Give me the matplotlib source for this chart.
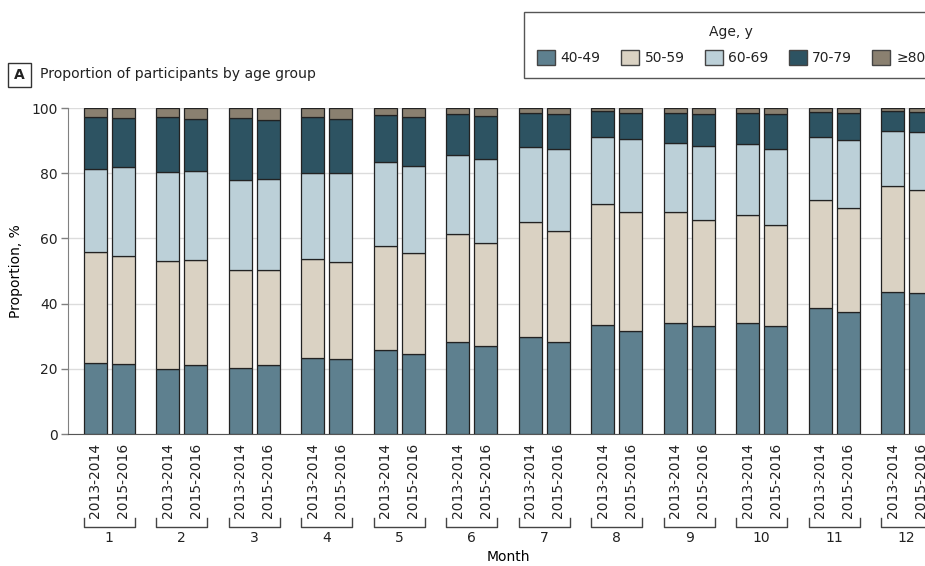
import matplotlib
matplotlib.use('Agg')
import matplotlib.pyplot as plt
import numpy as np
from matplotlib.patches import Rectangle, Patch
from matplotlib.transforms import blended_transform_factory

plt.rcParams['font.family'] = ['DejaVu Sans']
plt.rcParams['font.size'] = 10
plt.rcParams['text.color'] = '#222222'

# ---------------- data ----------------
months = [str(m) for m in range(1, 13)]
periods = ['2013-2014', '2015-2016']
age_groups = ['40-49', '50-59', '60-69', '70-79', '≥80']
colors = ['#5E808F', '#DAD2C3', '#BCD0D8', '#2D5362', '#8A8070']

# 2013-2014, percent by age group for months 1..12
p1314_40_49 = [21.7, 20.0, 20.3, 23.2, 25.8, 28.1, 29.8, 33.3, 34.0, 34.0, 38.7, 43.6]
p1314_50_59 = [34.2, 33.2, 30.1, 30.6, 32.0, 33.4, 35.2, 37.3, 34.2, 33.2, 33.2, 32.4]
p1314_60_69 = [25.4, 27.2, 27.4, 26.4, 25.5, 24.1, 23.1, 20.4, 21.0, 21.8, 19.3, 17.0]
p1314_70_79 = [15.8, 16.9, 19.0, 17.1, 14.4, 12.5, 10.5, 8.0, 9.4, 9.6, 7.7, 6.2]
p1314_80up = [2.9, 2.7, 3.2, 2.7, 2.3, 1.9, 1.4, 1.0, 1.4, 1.4, 1.1, 0.8]

# 2015-2016
p1516_40_49 = [21.5, 21.1, 21.2, 23.0, 24.6, 26.9, 28.1, 31.6, 33.1, 33.1, 37.4, 43.4]
p1516_50_59 = [33.0, 32.3, 29.0, 29.8, 31.0, 31.8, 34.3, 36.6, 32.4, 30.9, 32.0, 31.5]
p1516_60_69 = [27.3, 27.4, 28.0, 27.3, 26.7, 25.8, 25.0, 22.3, 22.9, 23.4, 20.9, 17.7]
p1516_70_79 = [15.0, 15.8, 18.1, 16.6, 14.8, 13.0, 10.9, 8.1, 9.9, 10.8, 8.3, 6.3]
p1516_80up = [3.2, 3.4, 3.7, 3.3, 2.9, 2.5, 1.7, 1.4, 1.7, 1.8, 1.4, 1.1]

series = {
    periods[0]: [p1314_40_49, p1314_50_59, p1314_60_69, p1314_70_79, p1314_80up],
    periods[1]: [p1516_40_49, p1516_50_59, p1516_60_69, p1516_70_79, p1516_80up],
}

# ---------------- figure ----------------
W, H = 925, 566
fig = plt.figure(figsize=(W / 100, H / 100), dpi=100)
ax = fig.add_axes([68 / W, (H - 434) / H, 880 / W, 326 / H])

x = np.arange(1, len(months) + 1)
offsets = [-0.19, 0.19]
bw = 0.317

for k, per in enumerate(periods):
    bottom = np.zeros(len(months))
    for vals, col in zip(series[per], colors):
        v = np.array(vals)
        ax.bar(x + offsets[k], v, bw, bottom=bottom, color=col,
               edgecolor='#222222', linewidth=0.9, zorder=3)
        bottom += v

ax.set_xlim(0.431, 12.569)
ax.set_ylim(0, 100)
ax.set_yticks(np.arange(0, 101, 20))
ax.yaxis.grid(True, color='#DCDCDC', linewidth=1)
ax.set_axisbelow(True)

tick_pos = np.sort(np.concatenate([x + offsets[0], x + offsets[1]]))
tick_lab = [periods[i % 2] for i in range(len(tick_pos))]
ax.set_xticks(tick_pos)
ax.set_xticklabels(tick_lab, rotation=90)
ax.tick_params(axis='x', length=0, pad=6.5, labelsize=10, labelcolor='#222222')
ax.tick_params(axis='y', length=5, width=1, color='#808080', pad=2.5,
               labelsize=10, labelcolor='#222222')

for s in ['top', 'right']:
    ax.spines[s].set_visible(False)
ax.spines['left'].set_color('#808080')
ax.spines['bottom'].set_color('#555555')

# brackets and month labels
trans = blended_transform_factory(ax.transData, ax.transAxes)
for xi, m in zip(x, months):
    l = xi + offsets[0] - bw / 2
    r = xi + offsets[1] + bw / 2
    ax.plot([l, l, r, r], [-0.258, -0.285, -0.285, -0.258], transform=trans,
            clip_on=False, color='#444444', lw=1)
    ax.text(xi, -0.319, m, transform=trans, ha='center', va='center', fontsize=10)

ax.set_xlabel('Month', fontsize=10)
ax.xaxis.set_label_coords(0.5, -0.356)
ax.set_ylabel('Proportion, %', fontsize=10)
ax.yaxis.set_label_coords(-0.0506, 0.5)

# panel title
fig.add_artist(Rectangle((8 / W, 1 - 87 / H), 23 / W, 24 / H, transform=fig.transFigure,
                         fill=False, edgecolor='#333333', lw=1))
fig.text(19.5 / W, 1 - 75 / H, 'A', ha='center', va='center', fontweight='bold', fontsize=10)
fig.text(40 / W, 1 - 74 / H, 'Proportion of participants by age group', ha='left',
         va='center', fontsize=10.1)

# legend
handles = [Patch(facecolor=c, edgecolor='#444444', lw=1) for c in colors]
leg = fig.legend(handles, age_groups, title='Age, y', ncol=5, loc='upper left',
                 bbox_to_anchor=(524 / W, 1 - 12 / H), frameon=True, fancybox=False,
                 edgecolor='#555555', framealpha=1, borderpad=0.95, handlelength=1.3,
                 handleheight=1.35, handletextpad=0.4, columnspacing=1.45,
                 borderaxespad=0, fontsize=10, title_fontsize=10, labelspacing=0.75)
leg.get_frame().set_linewidth(1)

fig.savefig('out.png', dpi=100)
